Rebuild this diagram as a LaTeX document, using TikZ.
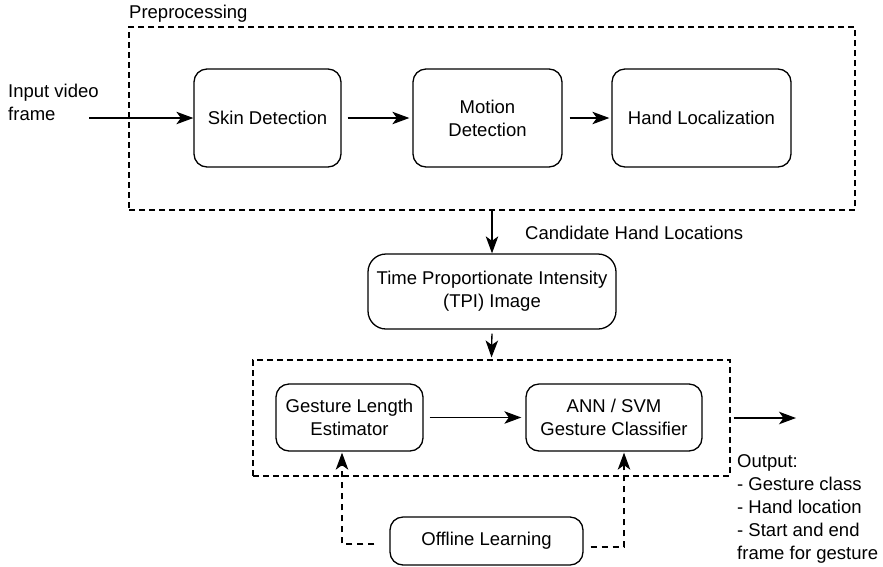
\documentclass[tikz,border=0pt]{standalone}
\usepackage{fontspec}
\setmainfont{Liberation Sans}
\usetikzlibrary{arrows.meta}
\begin{document}
\begin{tikzpicture}[x=1pt,y=-1pt,
  txt/.style={font=\fontsize{18.5}{23}\selectfont, inner sep=0pt},
  box/.style={txt, draw, line width=1.3pt, rounded corners=13pt, align=center},
  group/.style={draw, line width=1.1pt, dash pattern=on 6pt off 4pt, inner sep=0pt},
  arr/.style={line width=1.3pt, -{Stealth[length=17pt,width=12.5pt,inset=4.5pt]}},
  darr/.style={arr, dash pattern=on 6pt off 5pt}
]
\useasboundingbox (0,0) rectangle (883,566);

% preprocessing stage
\node[group, minimum width=726pt, minimum height=183pt] (prep) at (492,118.5) {};
\node[txt, anchor=west] (preplabel) at (129,14) {Preprocessing};
\node[box, minimum width=147pt, minimum height=98pt] (skin) at (267.5,118) {Skin Detection};
\node[box, minimum width=149pt, minimum height=98pt] (motion) at (487.5,118) {Motion\\Detection};
\node[box, minimum width=179pt, minimum height=98pt] (hand) at (701.5,118) {Hand Localization};

\node[txt, anchor=west, align=left] (input) at (8,102) {Input video\\frame};
\coordinate (instart) at (89,118);

% TPI image
\node[box, rounded corners=18pt, minimum width=248pt, minimum height=75pt] (tpi) at (492,291.5)
  {Time Proportionate Intensity\\(TPI) Image};
\node[txt, anchor=west] (cand) at (525,233) {Candidate Hand Locations};

% classification stage
\node[group, minimum width=477pt, minimum height=116pt] (cls) at (491.5,418) {};
\node[box, minimum width=147pt, minimum height=67pt] (gle) at (349.5,417.5) {Gesture Length\\Estimator};
\node[box, minimum width=176pt, minimum height=67pt] (ann) at (614,417.5) {ANN / SVM\\Gesture Classifier};
\node[box, minimum width=193pt, minimum height=48pt] (offline) at (486.5,541) {Offline Learning};

\node[txt, anchor=west, align=left] (output) at (737,509)
  {Output:\\- Gesture class\\- Hand location\\- Start and end\\frame for gesture};
\coordinate (outend) at (796,418);

% connectors
\draw[arr] (instart) -- (skin.west);
\draw[arr, shorten <=6pt, shorten >=3pt] (skin.east) -- (motion.west);
\draw[arr, shorten <=7pt, shorten >=2pt] (motion.east) -- (hand.west);
\draw[arr] (prep.south -| tpi.north) -- (tpi.north);
\draw[arr, shorten <=4pt, shorten >=2pt] (tpi.south) -- (cls.north);
\draw[arr, shorten <=6pt, shorten >=4pt] (gle.east) -- (ann.west);
\draw[arr, shorten <=3pt] (cls.east) -- (outend);
\draw[darr, shorten <=15pt, shorten >=1pt] ([yshift=-3pt]offline.west) -| ([xshift=-7.5pt]gle.south);
\draw[darr, shorten <=7pt, shorten >=1pt] ([yshift=-6pt]offline.east) -| ([xshift=10pt]ann.south);
\end{tikzpicture}
\end{document}
